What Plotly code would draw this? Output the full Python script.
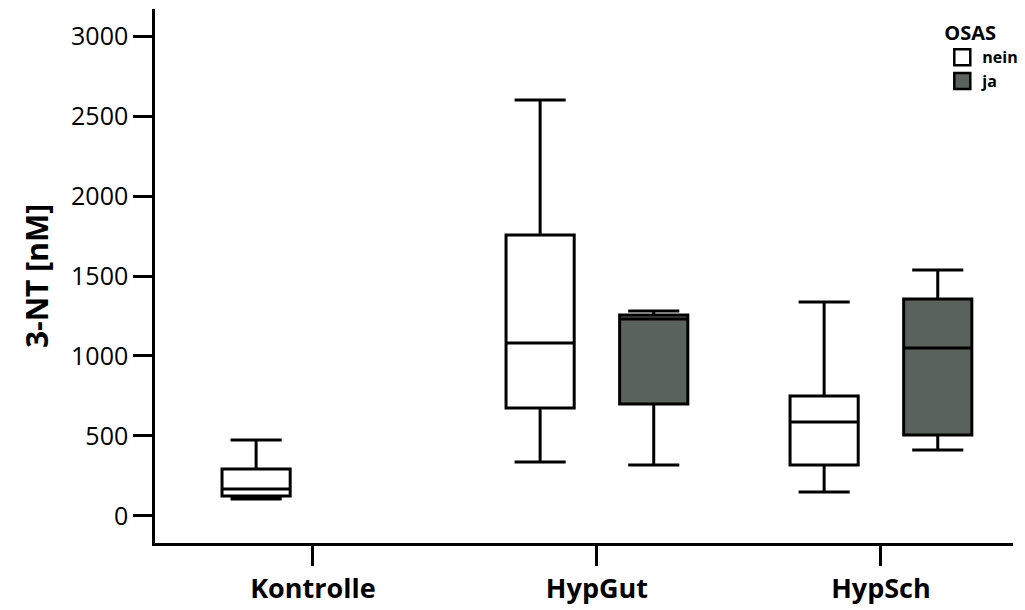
import plotly.graph_objects as go

categories = ["Kontrolle", "HypGut", "HypSch"]

# OSAS = nein
nein_x = ["Kontrolle", "HypGut", "HypSch"]
nein_low = [106, 337, 150]
nein_q1 = [125, 675, 319]
nein_med = [169, 1081, 587]
nein_q3 = [294, 1756, 750]
nein_high = [475, 2600, 1337]

# OSAS = ja
ja_x = ["HypGut", "HypSch"]
ja_low = [319, 412]
ja_q1 = [700, 506]
ja_med = [1231, 1050]
ja_q3 = [1256, 1356]
ja_high = [1281, 1537]

y_ticks = [0, 500, 1000, 1500, 2000, 2500, 3000]

FONT = "Open Sans"
JA_COLOR = "#5a625c"

fig = go.Figure()
fig.add_trace(go.Box(
    name="nein", x=nein_x, q1=nein_q1, median=nein_med, q3=nein_q3,
    lowerfence=nein_low, upperfence=nein_high,
    fillcolor="white", line=dict(color="black", width=3),
    whiskerwidth=0.75, boxpoints=False, showlegend=False,
))
fig.add_trace(go.Box(
    name="ja", x=ja_x, q1=ja_q1, median=ja_med, q3=ja_q3,
    lowerfence=ja_low, upperfence=ja_high,
    fillcolor=JA_COLOR, line=dict(color="black", width=3),
    whiskerwidth=0.75, boxpoints=False, showlegend=False,
))
# legend-only entries
for nm, col in [("nein", "white"), ("ja", JA_COLOR)]:
    fig.add_trace(go.Scatter(
        x=[None], y=[None], mode="markers", name="<b>%s</b>" % nm,
        marker=dict(symbol="square", size=16, color=col,
                    line=dict(color="black", width=2.5)),
        showlegend=True,
    ))

fig.update_layout(
    width=1025, height=610,
    margin=dict(l=155, r=12, t=9, b=67, autoexpand=False),
    paper_bgcolor="white", plot_bgcolor="white",
    boxmode="group", boxgap=0.2, boxgroupgap=0.4,
    font=dict(family=FONT, color="black"),
    showlegend=True,
    legend=dict(
        title=dict(text="<b>OSAS</b>", font=dict(size=20, family=FONT), side="top"),
        font=dict(size=16, family=FONT),
        x=1.012, xanchor="right", y=0.99, yanchor="top",
        bgcolor="rgba(0,0,0,0)", tracegroupgap=0, itemwidth=30,
    ),
    xaxis=dict(
        type="category", categoryorder="array", categoryarray=categories,
        range=[-0.556, 2.465],
        showline=True, linecolor="black", linewidth=2.5,
        ticks="outside", ticklen=20, tickwidth=2.5, tickcolor="black",
        tickfont=dict(size=27, family=FONT),
        tickvals=categories, ticktext=["<b>%s</b>" % c for c in categories],
        showgrid=False, zeroline=False,
    ),
    yaxis=dict(
        range=[-169, 3169],
        tickvals=y_ticks,
        showline=True, linecolor="black", linewidth=2.5,
        ticks="outside", ticklen=19, tickwidth=2.5, tickcolor="black",
        tickfont=dict(size=25, family=FONT),
        title=dict(text="<b>3-NT [nM]</b>", font=dict(size=30, family=FONT), standoff=14),
        showgrid=False, zeroline=False,
    ),
)

fig.write_html("out.html", config={"displayModeBar": False})
